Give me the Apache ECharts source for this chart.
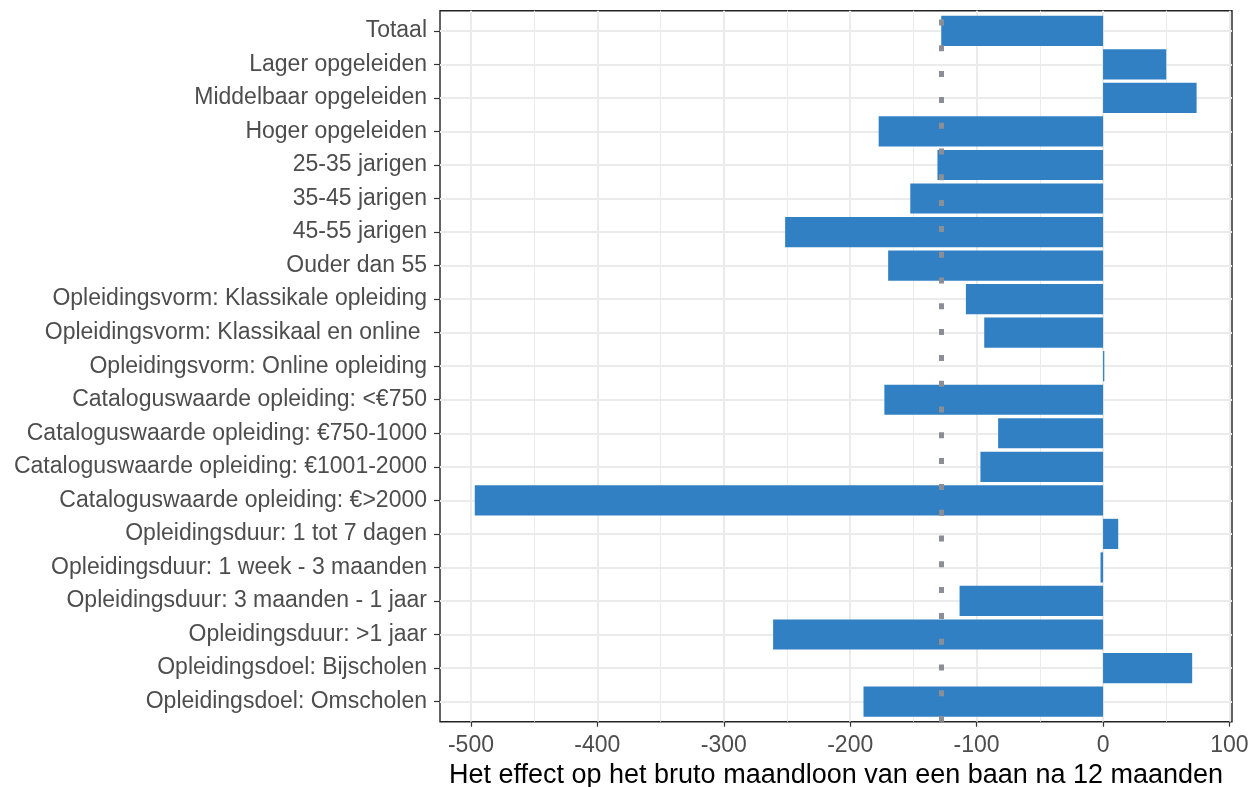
<!DOCTYPE html>
<html>
<head>
<meta charset="utf-8">
<script src="https://cdn.jsdelivr.net/npm/echarts@6/dist/echarts.min.js"></script>
<style>
html,body{margin:0;padding:0;background:#fff;}
#chart{width:1260px;height:787px;}
</style>
</head>
<body>
<div id="chart"></div>
<script>
const categories = [
  "Totaal",
  "Lager opgeleiden",
  "Middelbaar opgeleiden",
  "Hoger opgeleiden",
  "25-35 jarigen",
  "35-45 jarigen",
  "45-55 jarigen",
  "Ouder dan 55",
  "Opleidingsvorm: Klassikale opleiding",
  "Opleidingsvorm: Klassikaal en online ",
  "Opleidingsvorm: Online opleiding",
  "Cataloguswaarde opleiding: <€750",
  "Cataloguswaarde opleiding: €750-1000",
  "Cataloguswaarde opleiding: €1001-2000",
  "Cataloguswaarde opleiding: €>2000",
  "Opleidingsduur: 1 tot 7 dagen",
  "Opleidingsduur: 1 week - 3 maanden",
  "Opleidingsduur: 3 maanden - 1 jaar",
  "Opleidingsduur: >1 jaar",
  "Opleidingsdoel: Bijscholen",
  "Opleidingsdoel: Omscholen"
];
const effectValues = [-128, 50, 74, -177.5, -131, -152.5, -251.5, -170, -108.5, -94, 1, -173, -83, -97, -497, 12, -2, -113.5, -261, 70.5, -189.5];
const referenceValue = effectValues[0];
const xMajorTicks = [-500, -400, -300, -200, -100, 0, 100];
const xMinorTicks = [-450, -350, -250, -150, -50, 50];
const xTitle = "Het effect op het bruto maandloon van een baan na 12 maanden";

const FONT = "'Liberation Sans', Arial, sans-serif";
const chart = echarts.init(document.getElementById('chart'), null, {renderer: 'canvas'});

const gridLineData = xMajorTicks.map(v => ({xAxis: v, lineStyle: {width: 2}}))
  .concat(xMinorTicks.map(v => ({xAxis: v, lineStyle: {width: 1}})));
const hLineData = categories.map((c, i) => ({yAxis: i}));

chart.setOption({
  animation: false,
  backgroundColor: '#ffffff',
  grid: [
    {left: 440, right: 28, top: 14.05, bottom: 68.65, containLabel: false, outerBoundsMode: 'none'},
    {left: 440, right: 28, top: 10.7, bottom: 65.3, containLabel: false, outerBoundsMode: 'none', show: true,
     borderColor: '#222222', borderWidth: 1.4, backgroundColor: 'transparent'}
  ],
  xAxis: [
    {type: 'value', gridIndex: 0, min: -524.5, max: 102, show: false},
    {type: 'value', gridIndex: 1, min: -524.5, max: 102,
     axisLine: {show: false, onZero: false},
     axisTick: {show: true, length: 5, customValues: xMajorTicks, lineStyle: {color: '#333333', width: 1.2}},
     axisLabel: {show: true, customValues: xMajorTicks, margin: 12, color: '#4d4d4d', fontSize: 23, fontFamily: FONT},
     splitLine: {show: false},
     name: xTitle, nameLocation: 'middle', nameGap: 40,
     nameTextStyle: {color: '#000000', fontSize: 27, fontFamily: FONT}
    }
  ],
  yAxis: [
    {type: 'category', gridIndex: 0, data: categories, inverse: true,
     axisLine: {show: false, onZero: false},
     axisTick: {show: true, alignWithLabel: true, length: 6, lineStyle: {color: '#333333', width: 1.2}},
     axisLabel: {margin: 13, color: '#4d4d4d', fontSize: 23, fontFamily: FONT},
     splitLine: {show: false}
    },
    {type: 'value', gridIndex: 1, min: 0, max: 1, show: false}
  ],
  series: [
    {
      type: 'scatter', xAxisIndex: 1, yAxisIndex: 1, data: [], z: 0, silent: true,
      markLine: {
        silent: true, symbol: ['none', 'none'], label: {show: false}, z: 0,
        lineStyle: {color: '#ebebeb', type: 'solid'},
        emphasis: {disabled: true},
        data: gridLineData
      }
    },
    {
      type: 'scatter', xAxisIndex: 0, yAxisIndex: 0, data: [], z: 0, silent: true,
      markLine: {
        silent: true, symbol: ['none', 'none'], label: {show: false}, z: 0,
        lineStyle: {color: '#ebebeb', type: 'solid', width: 2},
        emphasis: {disabled: true},
        data: hLineData
      }
    },
    {
      type: 'bar', xAxisIndex: 0, yAxisIndex: 0, data: effectValues, barWidth: '90%', z: 5,
      itemStyle: {color: '#3280c4'}, silent: true
    },
    {
      type: 'scatter', xAxisIndex: 1, yAxisIndex: 1, data: [], z: 10, silent: true,
      markLine: {
        silent: true, symbol: ['none', 'none'], label: {show: false}, z: 10,
        emphasis: {disabled: true},
        lineStyle: {color: '#8a8f96', width: 5, type: [6, 19.8], dashOffset: 0.4, cap: 'butt'},
        data: [{xAxis: referenceValue}]
      }
    }
  ]
});
</script>
</body>
</html>
